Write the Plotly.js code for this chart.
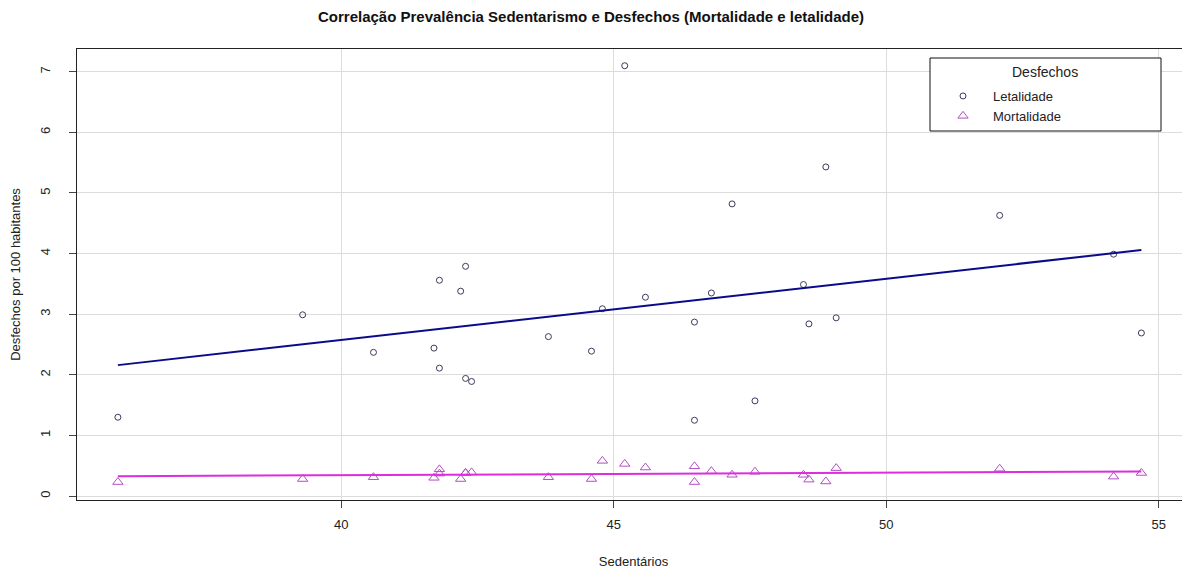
<!DOCTYPE html>
<html>
<head>
<meta charset="utf-8">
<script src="https://cdn.plot.ly/plotly-3.0.1.min.js"></script>
<style>html,body{margin:0;padding:0;background:#fff;overflow:hidden}</style>
</head>
<body>
<div id="chart" style="width:1190px;height:574px"></div>
<script>
// Sedentários (% prevalence) per unit
const sedentarios = [35.9, 39.29, 40.59, 41.70, 41.80, 41.80, 42.19, 42.28, 42.28, 42.39,
  43.80, 44.59, 44.79, 45.20, 45.58, 46.48, 46.48, 46.79, 47.17, 47.59,
  48.48, 48.58, 48.89, 49.08, 52.08, 54.17, 54.68];
const letalidade = [1.30, 2.99, 2.37, 2.44, 2.11, 3.56, 3.38, 3.79, 1.94, 1.89,
  2.63, 2.39, 3.09, 7.10, 3.28, 2.87, 1.25, 3.35, 4.82, 1.57,
  3.49, 2.84, 5.43, 2.94, 4.63, 3.99, 2.69];
const mortalidade = [0.23, 0.28, 0.31, 0.30, 0.37, 0.44, 0.28, 0.38, 0.38, 0.39,
  0.31, 0.28, 0.58, 0.53, 0.47, 0.49, 0.23, 0.41, 0.35, 0.40,
  0.35, 0.27, 0.24, 0.46, 0.45, 0.32, 0.38];
const xTicks = [40, 45, 50, 55];
const yTicks = [0, 1, 2, 3, 4, 5, 6, 7];
const legendTitle = 'Desfechos';

function fit(x, y) {
  const n = x.length;
  const mx = x.reduce((a, b) => a + b, 0) / n;
  const my = y.reduce((a, b) => a + b, 0) / n;
  let sxy = 0, sxx = 0;
  for (let i = 0; i < n; i++) { sxy += (x[i] - mx) * (y[i] - my); sxx += (x[i] - mx) ** 2; }
  const b = sxy / sxx, a = my - b * mx;
  const xs = [Math.min(...x), Math.max(...x)];
  return {x: xs, y: xs.map(v => a + b * v)};
}
const fL = fit(sedentarios, letalidade);
const fM = fit(sedentarios, mortalidade);

const traces = [
  {x: sedentarios, y: letalidade, type: 'scatter', mode: 'markers', name: 'Letalidade',
   marker: {symbol: 'circle-open', size: 6, color: '#3a3a5c', line: {width: 1}}},
  {x: sedentarios, y: mortalidade, type: 'scatter', mode: 'markers', name: 'Mortalidade',
   marker: {symbol: 'triangle-up-open', size: 9, color: '#b150c0', line: {width: 1}}},
  {x: fL.x, y: fL.y, type: 'scatter', mode: 'lines', showlegend: false,
   line: {color: '#0b0b8a', width: 2}},
  {x: fM.x, y: fM.y, type: 'scatter', mode: 'lines', showlegend: false,
   line: {color: '#dc2edc', width: 2}}
];

// plot area: left 77, top 49, bottom 500 (height 451), width 1113
const W = 1190, PW = 1113;
const py = p => (500 - p) / 451;
const px = p => (p - 77) / PW;

const axisFont = {family: 'Liberation Sans, Arial, sans-serif', size: 13, color: '#222'};
const layout = {
  width: W, height: 574,
  margin: {l: 77, r: 0, t: 49, b: 74},
  paper_bgcolor: '#fff', plot_bgcolor: '#fff',
  font: {family: 'Liberation Sans, Arial, sans-serif', color: '#222'},
  title: {text: '<b>Correlação Prevalência Sedentarismo e Desfechos (Mortalidade e letalidade)</b>',
    font: {size: 15, color: '#111'}, x: 591 / W, xanchor: 'center', y: 1 - 17 / 574, yanchor: 'middle'},
  xaxis: {range: [35.15, 35.15 + PW / 54.5], tickvals: xTicks, ticktext: xTicks.map(String),
    showgrid: true, gridcolor: '#dcdcdc', zeroline: false,
    showline: true, mirror: true, linecolor: '#222', linewidth: 1,
    ticks: 'outside', ticklen: 7, tickcolor: '#444', tickfont: axisFont, ticklabelstandoff: 5,
    title: {text: 'Sedentários', font: {size: 13, color: '#222'}, standoff: 26}},
  yaxis: {range: [-0.066, 7.376], tickvals: yTicks, ticktext: yTicks.map(String), tickangle: -90,
    showgrid: true, gridcolor: '#dcdcdc', zeroline: false,
    showline: true, mirror: true, linecolor: '#222', linewidth: 1,
    ticks: 'outside', ticklen: 7, tickcolor: '#444', tickfont: axisFont, ticklabelstandoff: 14,
    title: {text: 'Desfechos por 100 habitantes', font: {size: 13, color: '#222'}, standoff: 14}},
  showlegend: true,
  legend: {x: px(933), xanchor: 'left', y: py(81), yanchor: 'top',
    borderwidth: 0, bgcolor: 'rgba(0,0,0,0)', itemwidth: 50,
    font: {size: 13, color: '#222'}, tracegroupgap: 0},
  shapes: [{type: 'rect', xref: 'paper', yref: 'paper', x0: px(930), x1: px(1161), y0: py(131), y1: py(58),
    line: {color: '#111', width: 1}, fillcolor: '#fff', layer: 'above'}],
  annotations: [{text: legendTitle, xref: 'paper', yref: 'paper', x: px(1045), y: py(72),
    xanchor: 'center', yanchor: 'middle', showarrow: false, font: {size: 14, color: '#222'}}]
};
Plotly.newPlot('chart', traces, layout, {displayModeBar: false, staticPlot: true});
</script>
</body>
</html>
